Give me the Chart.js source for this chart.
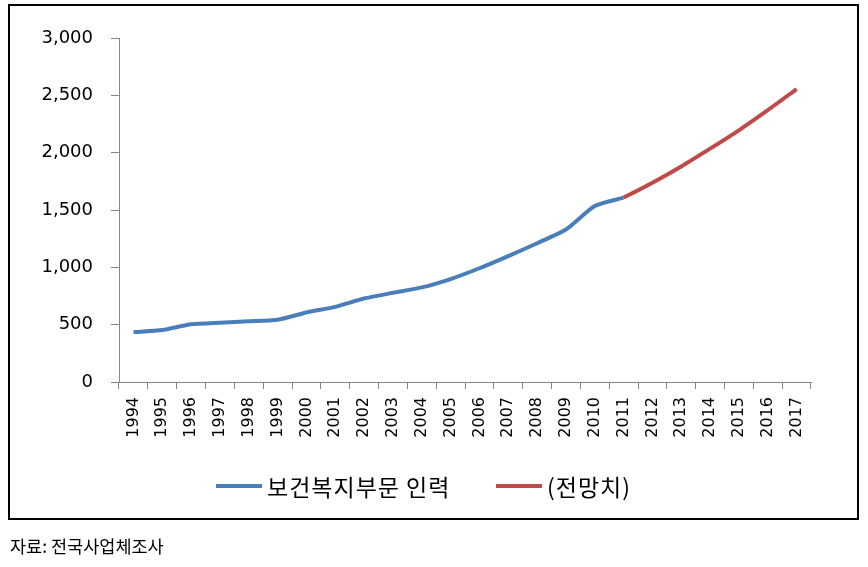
<!DOCTYPE html>
<html>
<head>
<meta charset="utf-8">
<script src="https://cdn.jsdelivr.net/npm/chart.js@4/dist/chart.umd.min.js"></script>
<style>
  html, body { margin: 0; padding: 0; background: #fff; }
  #wrap { position: relative; width: 868px; height: 567px; overflow: hidden; }
  #grafico { position: absolute; left: 0; top: 0; }
  #marco { position: absolute; left: 8px; top: 4px; width: 851px; height: 516px;
           box-sizing: border-box; border: 2px solid #000; pointer-events: none; }
  .leyenda { position: absolute; top: 473px; height: 26px; display: flex; align-items: center;
             font-family: "Noto Sans CJK KR", sans-serif; font-size: 23px; letter-spacing: 1px; color: #000; }
  .leyenda i { display: inline-block; width: 46px; height: 4px; margin-right: 5px; }
  #fuente { position: absolute; left: 10px; top: 533px; font-family: "Noto Sans CJK KR", sans-serif;
            font-size: 17.5px; color: #000; }
</style>
</head>
<body>
<div id="wrap">
  <canvas id="grafico" width="868" height="567"></canvas>
  <div id="marco"></div>
  <div class="leyenda" style="left:216px"><i style="background:#4A7EBB"></i><span id="nombreReal"></span></div>
  <div class="leyenda" style="left:496px"><i style="background:#BE4B48"></i><span id="nombreProy"></span></div>
  <div id="fuente">자료: 전국사업체조사</div>
</div>
<script>
// ================= DATOS =================
const anios = ["1994","1995","1996","1997","1998","1999","2000","2001","2002","2003","2004","2005",
               "2006","2007","2008","2009","2010","2011","2012","2013","2014","2015","2016","2017"];

// 보건복지부문 인력 (1994-2011)
const personal = [435, 453, 503, 517, 529, 543, 606, 655, 728, 778, 825, 898,
                  992, 1098, 1210, 1330, 1535, 1608, null, null, null, null, null, null];

// (전망치) 2011-2017
const proyeccion = [null, null, null, null, null, null, null, null, null, null, null, null,
                    null, null, null, null, null, 1608, 1738, 1880, 2035, 2195, 2370, 2555];

const nombres = ["보건복지부문 인력", "(전망치)"];
const colores = ["#4A7EBB", "#BE4B48"];
const ejeY = { min: 0, max: 3000, paso: 500 };

document.getElementById("nombreReal").textContent = nombres[0];
document.getElementById("nombreProy").textContent = nombres[1];

const gris = "#868686";
const fuenteTicks = "'DejaVu Sans', Verdana, sans-serif";

function serie(label, data, color) {
    return {
        label, data,
        borderColor: color,
        backgroundColor: color,
        borderWidth: 4,
        pointRadius: 0,
        pointHoverRadius: 0,
        tension: 0.2,
        spanGaps: false,
        fill: false
    };
}

new Chart(document.getElementById("grafico"), {
    type: "line",
    data: {
        labels: anios,
        datasets: [
            serie(nombres[0], personal, colores[0]),
            serie(nombres[1], proyeccion, colores[1])
        ]
    },
    options: {
        responsive: false,
        animation: false,
        locale: "en-US",
        layout: { padding: { top: 38, right: 57, left: 0, bottom: 0 } },
        plugins: {
            legend: { display: false },
            tooltip: { enabled: false }
        },
        scales: {
            x: {
                offset: true,
                grid: { offset: true, drawOnChartArea: false, drawTicks: true, tickLength: 7, color: gris },
                border: { display: true, color: gris, width: 1 },
                ticks: {
                    minRotation: 90, maxRotation: 90, autoSkip: false, padding: 8,
                    color: "#000", font: { family: fuenteTicks, size: 16 }
                },
                afterFit: (s) => { s.height = 185; }
            },
            y: {
                min: ejeY.min, max: ejeY.max,
                grid: { drawOnChartArea: false, drawTicks: true, tickLength: 8, color: gris },
                border: { display: true, color: gris, width: 1 },
                ticks: {
                    stepSize: ejeY.paso, padding: 18,
                    color: "#000", font: { family: fuenteTicks, size: 18 }
                },
                afterFit: (s) => { s.width = 119; }
            }
        }
    }
});
</script>
</body>
</html>
